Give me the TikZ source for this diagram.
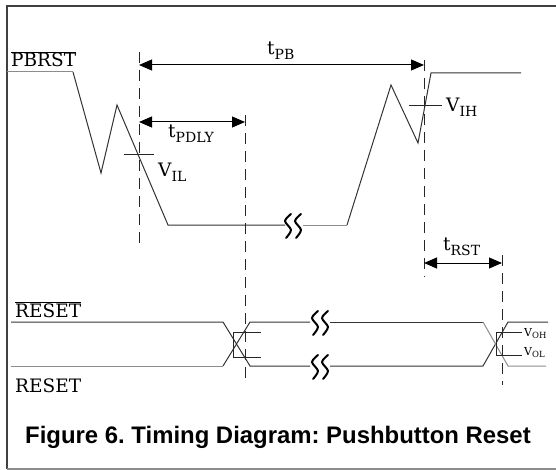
\documentclass[tikz,border=0pt]{standalone}
\usepackage{fontspec}
\setmainfont{DejaVu Serif}
\newfontfamily\capfont{Liberation Sans}
\usetikzlibrary{arrows.meta}
\frenchspacing
\newcommand\lblsub[2]{#1\raisebox{-5pt}{\fontsize{14}{14}\selectfont #2}}
\newcommand\smallsub[2]{#1\raisebox{-2.5pt}{\fontsize{8.5}{8.5}\selectfont #2}}
\begin{document}
\begin{tikzpicture}[x=1pt,y=-1pt,
  frame/.style={line width=1.3pt,draw=black!75},
  sig/.style={line width=1pt,draw=black!80,line join=miter},
  sigg/.style={line width=1pt,draw=black!45},
  guide/.style={line width=1pt,draw=black!85,dash pattern=on 11pt off 7pt},
  tick/.style={line width=1pt,draw=black!85},
  dim/.style={line width=1pt,draw=black,{Triangle[length=13pt,width=11pt]}-{Triangle[length=13pt,width=11pt]}},
  lbl/.style={inner sep=0pt,font=\fontsize{18.5}{19}\selectfont},
  slbl/.style={inner sep=0pt,font=\fontsize{11}{11}\selectfont},
  brk/.style={line width=2pt,draw=black,line cap=round}]
\useasboundingbox (0,0) rectangle (556,470);
% frame
\draw[frame] (557,6) -- (7,6) -- (7,469);
\draw[line width=1.3pt,draw=black!45] (7,469) -- (557,469);

% PBRST signal
\coordinate (p0) at (7,72);
\coordinate (p1) at (73,72);
\coordinate (p2) at (101,173);
\coordinate (p3) at (117,105);
\coordinate (p4) at (168,225);
\coordinate (b1l) at (285,225);
\coordinate (b1r) at (303,225);
\coordinate (p5) at (347,225);
\coordinate (p6) at (391,85);
\coordinate (p7) at (418,143);
\coordinate (p8) at (431,73);
\coordinate (p9) at (521,73);
\draw[sigg] (p0) -- (p1);
\draw[sig] (p1) -- (p2) -- (p3) -- (p4) -- (b1l);
\draw[sigg] (b1r) -- (p5);
\draw[sig] (p5) -- (p6) -- (p7) -- (p8) -- (p9);

% break symbols
\foreach \x/\y in {288/226,298/226,315/323,325/323,315/367,325/367}{
  \draw[brk] plot[smooth] coordinates {(\x+3,\y-12) (\x-3,\y-5) (\x+3,\y+4) (\x-2,\y+12)};
}

% guide lines
\draw[guide] (139,52) -- (139,245);
\draw[guide] (245,115) -- (245,385);
\draw[guide] (424,60) -- (424,277);
\draw[guide] (502,255) -- (502,385);

% dimension arrows
\draw[dim] (139,65) -- (424,65);
\draw[dim] (139,122) -- (245,122);
\draw[dim] (424,263) -- (502,263);

% crosshair ticks
\draw[tick] (124,155) -- (154,155);
\draw[tick] (409,106) -- (442,106);

% RESET signals
\draw[sig] (11,322) -- (223,322) -- (250,366) -- (310,366);
\draw[sig] (330,366) -- (483,366) -- (508,322) -- (548,322);
\draw[sigg] (11,366) -- (223,366);
\draw[sig] (223,366) -- (250,322) -- (310,322);
\draw[sig] (330,322) -- (483,322);
\draw[sigg] (483,322) -- (508,366) -- (546,366);

% VOH / VOL brackets
\draw[tick] (261,332) -- (233,332) -- (233,357) -- (261,357);
\draw[tick] (522,332) -- (496,332) -- (496,355) -- (522,355);

% labels
\node[lbl,anchor=base west] (lpb) at (11,67) {$\overline{\hbox{PBRST}}$};
\node[lbl,anchor=base west] (lrb) at (15,317) {$\overline{\hbox{RESET}}$};
\node[lbl,anchor=base west] (lr) at (15,392) {RESET};
\node[lbl,anchor=base west] (ltpb) at (267,55) {\lblsub{t}{PB}};
\node[lbl,anchor=base west] (ltpd) at (168,138) {\lblsub{t}{PDLY}};
\node[lbl,anchor=base west] (lvil) at (158,177) {\lblsub{V}{IL}};
\node[lbl,anchor=base west] (lvih) at (446,112) {\lblsub{V}{IH}};
\node[lbl,anchor=base west] (ltrst) at (443,251) {\lblsub{t}{RST}};
\node[slbl,anchor=base west] (lvoh) at (524,336) {\smallsub{V}{OH}};
\node[slbl,anchor=base west] (lvol) at (524,355) {\smallsub{V}{OL}};
\node[inner sep=0pt,anchor=base west,font=\capfont\bfseries\fontsize{23.9}{24}\selectfont] (cap) at (25,443) {Figure 6. Timing Diagram: Pushbutton Reset};
\end{tikzpicture}
\end{document}
